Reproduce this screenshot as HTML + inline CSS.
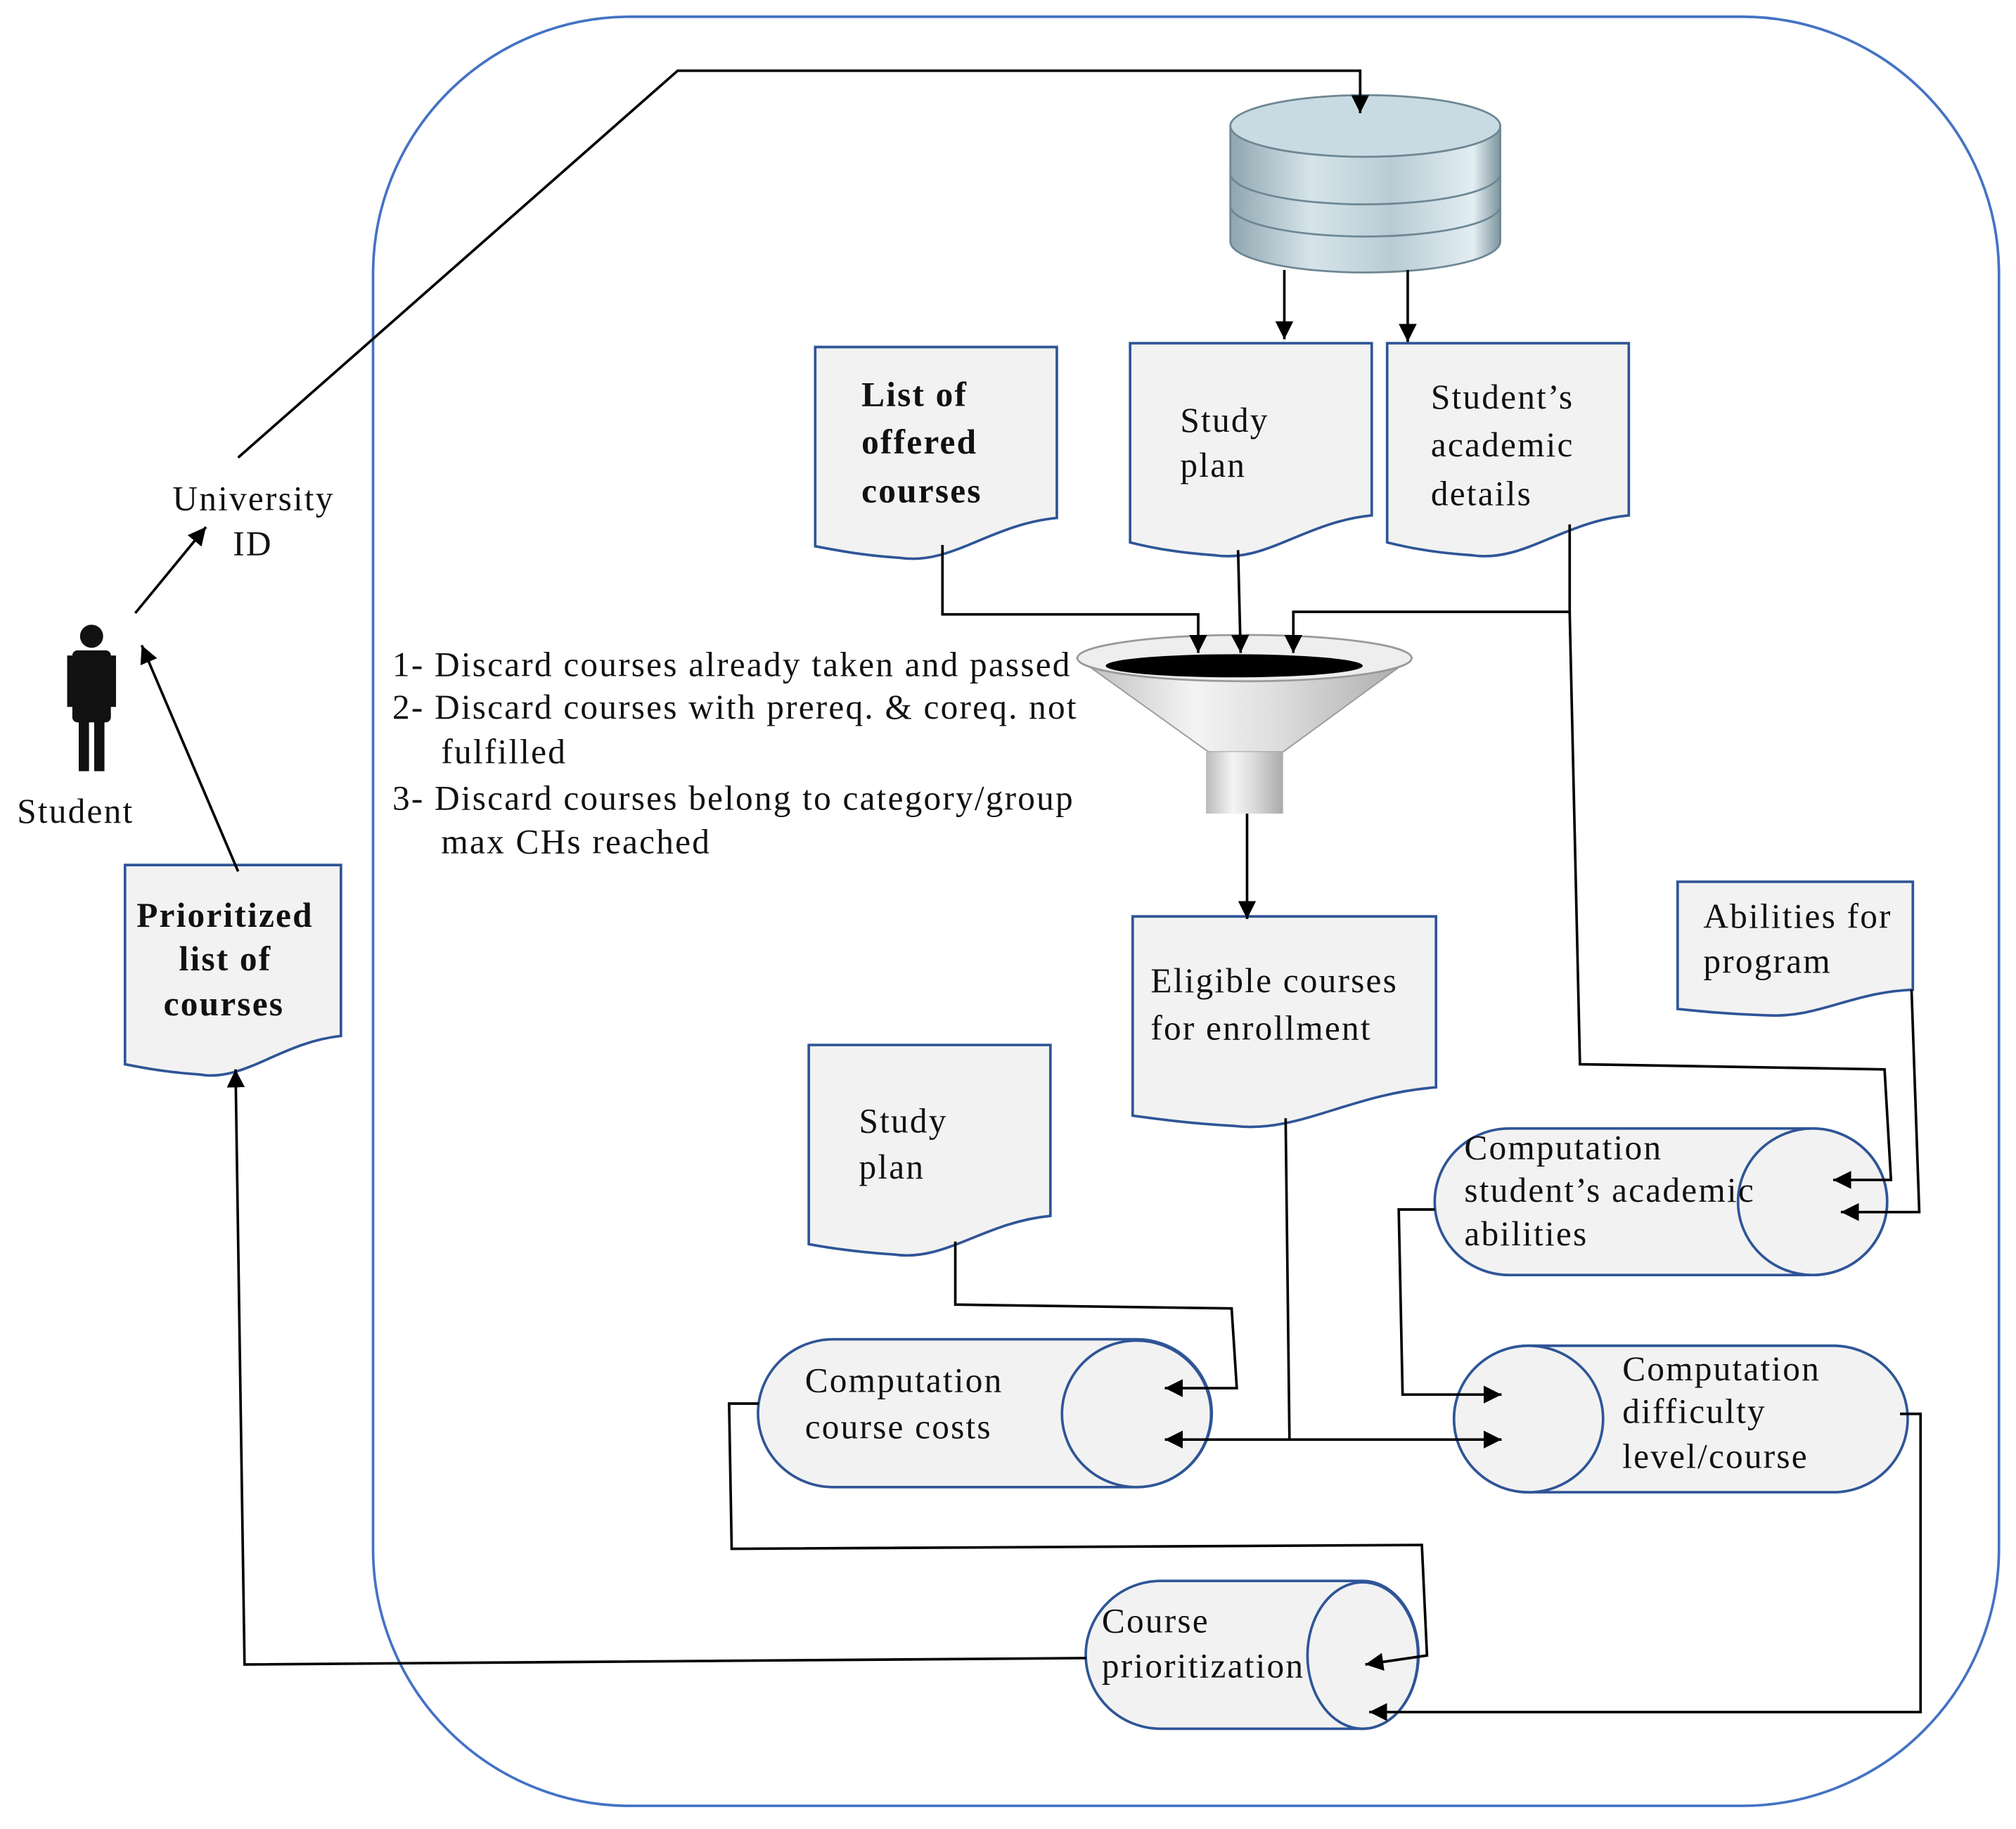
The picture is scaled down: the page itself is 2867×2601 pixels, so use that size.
<!DOCTYPE html>
<html><head><meta charset="utf-8"><style>html,body{margin:0;padding:0;background:#fff}svg{display:block}</style></head><body>
<svg width="2867" height="2601" viewBox="0 0 1568 1423" xmlns="http://www.w3.org/2000/svg" font-family="Liberation Serif, serif" font-size="27" letter-spacing="1.2">
<defs>
<marker id="b" viewBox="0 0 10 10" refX="10" refY="5" markerWidth="14" markerHeight="14" orient="auto" markerUnits="userSpaceOnUse"><path d="M0,0L10,5L0,10z" fill="#000"/></marker>
<linearGradient id="db" x1="0" x2="1"><stop offset="0" stop-color="#8fa6b0"/><stop offset=".3" stop-color="#d6e4ea"/><stop offset=".6" stop-color="#b8ccd4"/><stop offset=".9" stop-color="#e2eef2"/><stop offset="1" stop-color="#7e949e"/></linearGradient>
<linearGradient id="fn" x1="0" x2="1"><stop offset="0" stop-color="#bbb"/><stop offset=".35" stop-color="#f4f4f4"/><stop offset=".6" stop-color="#ddd"/><stop offset="1" stop-color="#aaa"/></linearGradient>
</defs>
<rect x="290" y="13" width="1265" height="1392" rx="200" fill="none" stroke="#4472c4" stroke-width="2"/>
<g stroke="#6d8794" stroke-width="1.5">
<path d="M957,98 V188 A105,24 0 0 0 1167,188 V98 Z" fill="url(#db)"/>
<ellipse cx="1062" cy="98" rx="105" ry="24" fill="#c9dbe2"/>
<path d="M957,135 A105,24 0 0 0 1167,135 M957,160 A105,24 0 0 0 1167,160" fill="none"/>
</g>
<path d="M838,512 L940,585 L998,585 L1098,512 Z" fill="url(#fn)" stroke="#999"/>
<rect x="938" y="585" width="60" height="48" fill="url(#fn)"/>
<ellipse cx="968" cy="512" rx="130" ry="18" fill="#eee" stroke="#999" stroke-width="1.5"/>
<ellipse cx="960" cy="518" rx="100" ry="9" fill="#000"/>
<g fill="#f2f2f2" stroke="#2f5597" stroke-width="2">
<path d="M634,270 H822 V403 C770,408 740,440 700,434 C670,432 650,428 634,425 Z"/>
<path d="M879,267 H1067 V401 C1015,406 985,438 945,432 C915,430 895,426 879,422 Z"/>
<path d="M1079,267 H1267 V401 C1215,406 1185,438 1145,432 C1115,430 1095,426 1079,422 Z"/>
<path d="M97,673 H265 V806 C218,811 190,842 155,836 C128,834 112,831 97,828 Z"/>
<path d="M1305,686 H1488 V770 C1440,772 1415,792 1375,790 C1345,789 1325,787 1305,785 Z"/>
<path d="M881,713 H1117 V846 C1050,851 1010,882 960,876 C925,874 903,871 881,868 Z"/>
<path d="M629,813 H817 V946 C765,951 735,982 695,976 C665,974 645,971 629,968 Z"/>
</g>
<g fill="#f2f2f2" stroke="#2f5597" stroke-width="2">
<path d="M1174,878 H1410 A58,57 0 0 1 1410,992 H1174 A58,57 0 0 1 1174,878 Z"/>
<ellipse cx="1410" cy="935" rx="58" ry="57"/>
<path d="M648,1042 H884 A58,57 0 0 1 884,1157 H648 A58,57 0 0 1 648,1042 Z"/>
<ellipse cx="884" cy="1100" rx="58" ry="57"/>
<path d="M1189,1047 H1426 A58,57 0 0 1 1426,1161 H1189 A58,57 0 0 1 1189,1047 Z"/>
<ellipse cx="1189" cy="1104" rx="58" ry="57"/>
<path d="M903,1230 H1060 A43,57 0 0 1 1060,1345 H903 A58,57 0 0 1 903,1230 Z"/>
<ellipse cx="1060" cy="1288" rx="43" ry="57"/>
</g>
<g fill="#111"><circle cx="71" cy="495" r="9"/><rect x="56" y="506" width="30" height="56" rx="4"/><rect x="61" y="555" width="8" height="45"/><rect x="73" y="555" width="8" height="45"/><rect x="52" y="510" width="6" height="40"/><rect x="84" y="510" width="6" height="40"/></g>
<g stroke="#000" stroke-width="2" fill="none">
<path d="M185,356 L527,55 H1058 V88" marker-end="url(#b)"/>
<path d="M105,477 L160,410" marker-end="url(#b)"/>
<path d="M185,678 L110,502" marker-end="url(#b)"/>
<path d="M999,210 V264" marker-end="url(#b)"/>
<path d="M1095,210 V266" marker-end="url(#b)"/>
<path d="M733,424 V478 H932 V508" marker-end="url(#b)"/>
<path d="M963,428 L965,508" marker-end="url(#b)"/>
<path d="M1221,408 V476 H1006 V508" marker-end="url(#b)"/>
<path d="M970,633 V715" marker-end="url(#b)"/>
<path d="M1221,476 L1229,828 L1466,832 L1471,918 H1426" marker-end="url(#b)"/>
<path d="M1487,770 L1493,943 H1432" marker-end="url(#b)"/>
<path d="M1116,941 H1088 L1091,1085 H1168" marker-end="url(#b)"/>
<path d="M1000,870 L1003,1120 H1168" marker-end="url(#b)"/>
<path d="M1003,1120 H906" marker-end="url(#b)"/>
<path d="M743,966 V1015 L958,1018 L962,1080 H906" marker-end="url(#b)"/>
<path d="M590,1092 H567 L569,1205 L1106,1202 L1110,1288 L1062,1295" marker-end="url(#b)"/>
<path d="M1478,1100 H1494 V1332 H1065" marker-end="url(#b)"/>
<path d="M845,1290 L190,1295 L183,832" marker-end="url(#b)"/>
</g>
<g fill="#111">
<text x="134" y="397">University</text><text x="181" y="432">ID</text>
<text x="13" y="640">Student</text>
<text x="305" y="526">1- Discard courses already taken and passed</text>
<text x="305" y="559">2- Discard courses with prereq. &amp; coreq. not</text>
<text x="343" y="594">fulfilled</text>
<text x="305" y="630">3- Discard courses belong to category/group</text>
<text x="343" y="664">max CHs reached</text>
<g font-weight="bold"><text x="670" y="316">List of</text><text x="670" y="353">offered</text><text x="670" y="391">courses</text>
<text x="106" y="721">Prioritized</text><text x="139" y="755">list of</text><text x="127" y="790">courses</text></g>
<text x="918" y="336">Study</text><text x="918" y="371">plan</text>
<text x="1113" y="318">Student’s</text><text x="1113" y="355">academic</text><text x="1113" y="393">details</text>
<text x="1325" y="722">Abilities for</text><text x="1325" y="757">program</text>
<text x="895" y="772">Eligible courses</text><text x="895" y="809">for enrollment</text>
<text x="668" y="881">Study</text><text x="668" y="917">plan</text>
<text x="1139" y="902">Computation</text><text x="1139" y="935">student’s academic</text><text x="1139" y="969">abilities</text>
<text x="626" y="1083">Computation</text><text x="626" y="1119">course costs</text>
<text x="1262" y="1074">Computation</text><text x="1262" y="1107">difficulty</text><text x="1262" y="1142">level/course</text>
<text x="857" y="1270">Course</text><text x="857" y="1305">prioritization</text>
</g>
</svg>
</body></html>
